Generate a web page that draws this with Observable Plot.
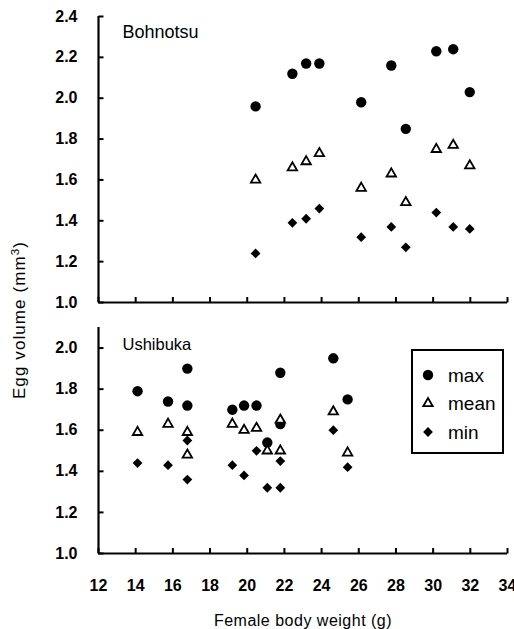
<!DOCTYPE html>
<html><head><meta charset="utf-8">
<script src="https://cdn.jsdelivr.net/npm/d3@7"></script>
<script src="https://cdn.jsdelivr.net/npm/@observablehq/plot@0.6"></script>
<style>
body{margin:0;background:#fff;}
#wrap{position:relative;width:514px;height:629px;font-family:Arial,"Liberation Sans",sans-serif;color:#000;overflow:hidden;}
svg{display:block;}
#ylabel{position:absolute;left:-80px;top:308px;width:200px;height:24px;line-height:24px;text-align:center;transform:rotate(-90deg);font-size:17px;letter-spacing:1.1px;white-space:nowrap;}
#ylabel sup{font-size:0.68em;vertical-align:0;position:relative;top:-0.5em;}
#legend{position:absolute;left:411px;top:349px;width:93px;height:105px;border:2px solid #000;box-sizing:border-box;background:#fff;}
</style></head><body>
<div id="wrap"><div id="top"></div><div id="bottom"></div><div id="ylabel">Egg volume (mm<sup>3</sup>)</div><div id="legend"></div></div>
<script>
// ---- data ----
const xTicks = [12, 14, 16, 18, 20, 22, 24, 26, 28, 30, 32, 34];
const yTicksTop = [1.0, 1.2, 1.4, 1.6, 1.8, 2.0, 2.2, 2.4];
const yTicksBottom = [1.0, 1.2, 1.4, 1.6, 1.8, 2.0];
const seriesNames = ["max", "mean", "min"];

// Bohnotsu
const bWeight = [20.45, 22.43, 23.17, 23.88, 26.13, 27.75, 28.53, 30.17, 31.08, 31.97];
const bMax    = [1.96, 2.12, 2.17, 2.17, 1.98, 2.16, 1.85, 2.23, 2.24, 2.03];
const bMean   = [1.60, 1.66, 1.69, 1.73, 1.56, 1.63, 1.49, 1.75, 1.77, 1.67];
const bMin    = [1.24, 1.39, 1.41, 1.46, 1.32, 1.37, 1.27, 1.44, 1.37, 1.36];

// Ushibuka
const uWeight = [14.1, 15.74, 16.78, 16.78, 19.2, 19.83, 20.5, 21.08, 21.78, 21.78, 24.63, 25.4];
const uMax    = [1.79, 1.74, 1.90, 1.72, 1.70, 1.72, 1.72, 1.54, 1.88, 1.63, 1.95, 1.75];
const uMean   = [1.59, 1.63, 1.59, 1.48, 1.63, 1.60, 1.61, 1.50, 1.65, 1.50, 1.69, 1.49];
const uMin    = [1.44, 1.43, 1.55, 1.36, 1.43, 1.38, 1.50, 1.32, 1.45, 1.32, 1.60, 1.42];

// ---- styles ----
const sym = {
  max:  {symbol: "circle", r: 5.2, fill: "black", stroke: "none", strokeWidth: 0},
  mean: {symbol: "triangle", r: 3.5, fill: "white", stroke: "black", strokeWidth: 1.8},
  min:  {symbol: "diamond2", r: 4.4, fill: "black", stroke: "none", strokeWidth: 0}
};
const font = "Arial, 'Liberation Sans', sans-serif";
// inward tick glyphs (pixel lengths)
const tickUp = {draw(c) { c.moveTo(0, 0); c.lineTo(0, -5.5); }};
const tickRight = {draw(c) { c.moveTo(0, 0); c.lineTo(5, 0); }};

function panel({weights, maxV, meanV, minV, yDomain, yTicks, title, titleSize, titleDy, height, marginTop, marginBottom, showXLabels}) {
  const rows = [];
  weights.forEach((w, i) => {
    rows.push({w, v: maxV[i], s: "max"});
    rows.push({w, v: meanV[i], s: "mean"});
    rows.push({w, v: minV[i], s: "min"});
  });
  const dots = ["max", "min", "mean"].map(s => Plot.dot(rows.filter(d => d.s === s), {x: "w", y: "v", ...sym[s]}));
  const y0 = yDomain[0];
  const svg = Plot.plot({
    width: 514, height, marginLeft: 98, marginRight: 7, marginTop, marginBottom,
    style: {fontFamily: font, background: "white", color: "black", overflow: "visible"},
    x: {domain: [12, 34], ticks: xTicks, axis: showXLabels ? undefined : null},
    y: {domain: yDomain, ticks: yTicks},
    marks: [
      showXLabels ? Plot.axisX({ticks: xTicks, tickSize: 0, tickPadding: 26, fontSize: 16, tickFormat: d => String(d), label: null}) : null,
      Plot.axisY({ticks: yTicks, tickSize: 0, tickPadding: 21, tickFormat: d3.format(".1f"), fontSize: 16, label: null}),
      Plot.ruleX([12], {strokeWidth: 2.2}),
      Plot.ruleY([y0], {strokeWidth: 2.2}),
      Plot.dot(xTicks, {x: d => d, y: () => y0, symbol: tickUp, fill: "none", stroke: "black", strokeWidth: 2}),
      Plot.dot(yTicks, {x: () => 12, y: d => d, symbol: tickRight, fill: "none", stroke: "black", strokeWidth: 2}),
      Plot.text([title], {frameAnchor: "top-left", dx: 24, dy: titleDy, textAnchor: "start", lineAnchor: "middle", fontSize: titleSize}),
      showXLabels ? Plot.text(["Female body weight (g)"], {frameAnchor: "bottom", dy: 67, lineAnchor: "middle", fontSize: 16}) : null,
      ...dots
    ]
  });
  d3.select(svg).selectAll("g[aria-label$='tick label']").attr("font-weight", "bold");
  return svg;
}

const topPlot = panel({weights: bWeight, maxV: bMax, meanV: bMean, minV: bMin, yDomain: [1.0, 2.4], yTicks: yTicksTop,
  title: "Bohnotsu", titleSize: 18, titleDy: 16, height: 310, marginTop: 16, marginBottom: 8, showXLabels: false});
const bottomPlot = panel({weights: uWeight, maxV: uMax, meanV: uMean, minV: uMin, yDomain: [1.0, 2.1], yTicks: yTicksBottom,
  title: "Ushibuka", titleSize: 16.5, titleDy: 17, height: 319, marginTop: 17, marginBottom: 76, showXLabels: true});
document.getElementById("top").appendChild(topPlot);
document.getElementById("bottom").appendChild(bottomPlot);
d3.select(bottomPlot).selectAll("text").filter(function() { return this.textContent === "Female body weight (g)"; })
  .style("letter-spacing", "0.5px");

// ---- legend ----
const lg = d3.select("#legend").append("svg").attr("width", 89).attr("height", 101);
const symMap = {circle: d3.symbolCircle, triangle: d3.symbolTriangle, diamond2: d3.symbolDiamond2};
seriesNames.forEach((s, i) => {
  const o = sym[s];
  const g = lg.append("g").attr("transform", `translate(15,${24 + i * 28.5})`);
  g.append("path").attr("d", d3.symbol(symMap[o.symbol], Math.PI * o.r * o.r)())
    .attr("fill", o.fill).attr("stroke", o.stroke).attr("stroke-width", o.strokeWidth);
  g.append("text").attr("x", 20).attr("dy", "0.35em").attr("font-size", 19).attr("font-family", font).text(s);
});
</script></body></html>
